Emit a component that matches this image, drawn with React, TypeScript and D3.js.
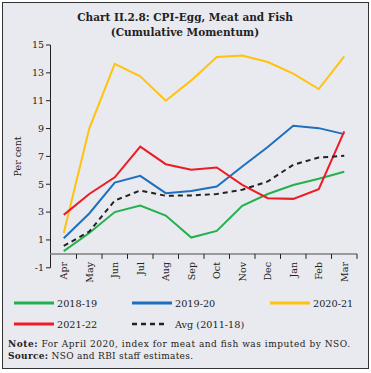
import React from 'react';
import * as d3 from 'd3';

const months = ['Apr', 'May', 'Jun', 'Jul', 'Aug', 'Sep', 'Oct', 'Nov', 'Dec', 'Jan', 'Feb', 'Mar'];
const s1819 = [0.2, 1.5, 3.0, 3.47, 2.75, 1.17, 1.65, 3.45, 4.3, 4.95, 5.4, 5.9];
const s1920 = [1.12, 2.9, 5.12, 5.6, 4.36, 4.52, 4.84, 6.27, 7.67, 9.2, 9.03, 8.6];
const s2021 = [1.5, 9.0, 13.64, 12.75, 11.0, 12.46, 14.14, 14.24, 13.78, 12.94, 11.84, 14.19];
const s2122 = [2.8, 4.3, 5.5, 7.7, 6.44, 6.04, 6.2, 4.96, 4.0, 3.95, 4.65, 8.8];
const avg = [0.57, 1.6, 3.83, 4.55, 4.17, 4.2, 4.3, 4.6, 5.2, 6.4, 6.92, 7.04];
const yTicks = [-1, 1, 3, 5, 7, 9, 11, 13, 15];

const series = [
  { name: '2018-19', values: s1819, color: '#22b14c', dash: '' },
  { name: '2019-20', values: s1920, color: '#1f6fbf', dash: '' },
  { name: '2020-21', values: s2021, color: '#ffc20e', dash: '' },
  { name: '2021-22', values: s2122, color: '#ed1c24', dash: '' },
  { name: 'Avg (2011-18)', values: avg, color: '#222', dash: '5,4' },
];

const FONT = '"DejaVu Serif", serif';

export default function App() {
  const x = d3.scaleBand<string>().domain(months).range([51, 357]);
  const y = d3.scaleLinear().domain([-1, 15]).range([267.8, 45]);
  const line = d3.line<number>()
    .x((_, i) => (x(months[i]) || 0) + x.bandwidth() / 2)
    .y(d => y(d));

  const legendPos = [
    { lx: 14, ly: 303 },
    { lx: 132, ly: 303 },
    { lx: 270, ly: 303 },
    { lx: 14, ly: 324 },
    { lx: 132, ly: 324 },
  ];

  return (
    <div style={{ position: 'absolute', left: 0, top: 0 }}>
      <svg width={371} height={373} style={{ display: 'block', fontFamily: FONT }}>
        <rect x={0} y={0} width={371} height={373} fill="#fff" />
        <rect x={2.5} y={2.5} width={366} height={366} fill="#e9eaef" stroke="#333" strokeWidth={1} />

        <text x={185} y={21} textAnchor="middle" fontSize={10.5} fontWeight="bold" fill="#222">
          Chart II.2.8: CPI-Egg, Meat and Fish
        </text>
        <text x={185} y={35.5} textAnchor="middle" fontSize={10.5} fontWeight="bold" fill="#222">
          (Cumulative Momentum)
        </text>

        {/* y axis */}
        <line x1={50.5} x2={50.5} y1={y(15)} y2={y(-1)} stroke="#222" strokeWidth={1} />
        {yTicks.map(t => (
          <g key={t}>
            <line x1={46} x2={50.5} y1={y(t)} y2={y(t)} stroke="#222" />
            <text x={44} y={y(t)} dy="0.35em" textAnchor="end" fontSize={9.5} fill="#222">{t}</text>
          </g>
        ))}
        <text transform={`translate(21,${y(7)}) rotate(-90)`} textAnchor="middle" fontSize={9.5} fill="#222">Per cent</text>

        {/* zero line and x ticks */}
        <line x1={50.5} x2={357} y1={y(0)} y2={y(0)} stroke="#9a9a9a" strokeWidth={2} />
        {months.slice(1).map(m => (
          <line key={m} x1={(x(m) || 0)} x2={(x(m) || 0)} y1={y(0)} y2={y(0) + 5} stroke="#222" />
        ))}
        <line x1={357} x2={357} y1={y(0)} y2={y(0) + 5} stroke="#222" />
        {months.map(m => (
          <text key={m}
            transform={`translate(${(x(m) || 0) + x.bandwidth() / 2 + 3.5},262) rotate(-90)`}
            textAnchor="end" fontSize={9.5} fill="#222">{m}</text>
        ))}

        {/* series */}
        {series.map(s => (
          <path key={s.name} d={line(s.values) || ''} fill="none" stroke={s.color}
            strokeWidth={2} strokeDasharray={s.dash || undefined} />
        ))}

        {/* legend */}
        {series.map((s, i) => (
          <g key={s.name}>
            <line x1={legendPos[i].lx} x2={legendPos[i].lx + (s.dash ? 36 : 40)} y1={legendPos[i].ly} y2={legendPos[i].ly}
              stroke={s.color} strokeWidth={s.dash ? 2.5 : 3} strokeDasharray={s.dash || undefined} />
            <text x={legendPos[i].lx + 43} y={legendPos[i].ly + 3.5} fontSize={9.7} fill="#222">{s.name}</text>
          </g>
        ))}

        <text x={8} y={347} fontSize={9} fill="#222" textLength={342} lengthAdjust="spacing">
          <tspan fontWeight="bold">Note:</tspan> For April 2020, index for meat and fish was imputed by NSO.
        </text>
        <text x={8} y={359} fontSize={9} fill="#222" textLength={185} lengthAdjust="spacing">
          <tspan fontWeight="bold">Source:</tspan> NSO and RBI staff estimates.
        </text>
      </svg>
    </div>
  );
}
